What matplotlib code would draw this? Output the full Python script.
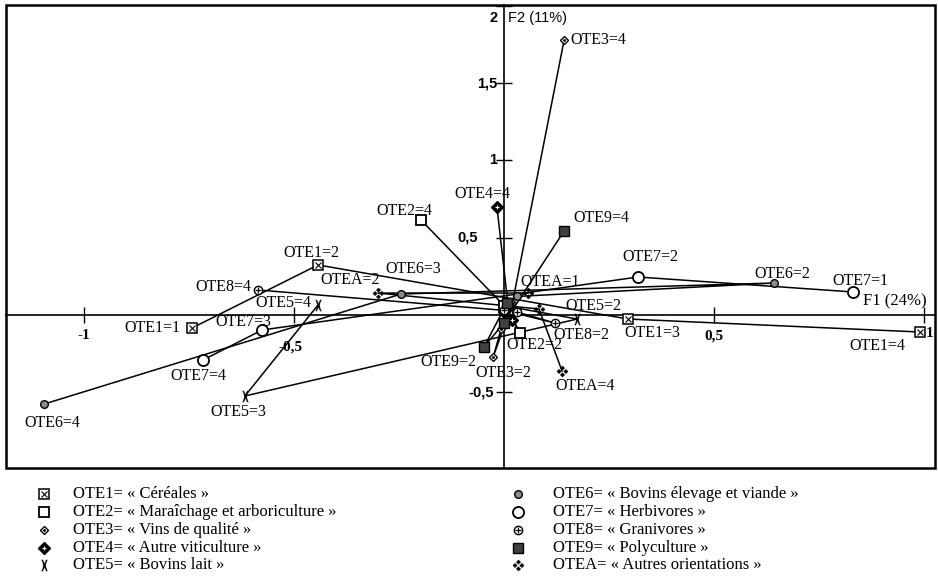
import numpy as np
import matplotlib.pyplot as plt
from matplotlib.path import Path
from matplotlib.patches import Rectangle

# coordinates on F1 / F2 for categories 1..4 of each OTE variable
ote1_f1 = [-0.743, -0.443, 0.295, 0.990]
ote1_f2 = [-0.084, 0.324, -0.026, -0.110]
ote2_f1 = [0.010, 0.038, 0.000, -0.198]
ote2_f2 = [0.030, -0.117, 0.060, 0.615]
ote3_f1 = [-0.007, -0.026, 0.020, 0.143]
ote3_f2 = [-0.090, -0.272, 0.080, 1.780]
ote4_f1 = [0.000, 0.020, 0.010, -0.017]
ote4_f2 = [0.020, -0.030, 0.050, 0.699]
ote5_f1 = [0.020, 0.174, -0.617, -0.443]
ote5_f2 = [0.050, -0.026, -0.524, 0.065]
ote6_f1 = [0.030, 0.643, -0.245, -1.095]
ote6_f2 = [0.120, 0.207, 0.136, -0.576]
ote7_f1 = [0.831, 0.319, -0.576, -0.717]
ote7_f2 = [0.149, 0.246, -0.097, -0.291]
ote8_f1 = [0.030, 0.121, 0.000, -0.586]
ote8_f2 = [0.020, -0.052, 0.030, 0.162]
ote9_f1 = [0.007, -0.048, 0.000, 0.143]
ote9_f2 = [0.078, -0.207, -0.050, 0.544]
otea_f1 = [0.057, -0.300, 0.083, 0.138]
otea_f2 = [0.142, 0.142, 0.039, -0.362]

variables = ['OTE1', 'OTE2', 'OTE3', 'OTE4', 'OTE5',
             'OTE6', 'OTE7', 'OTE8', 'OTE9', 'OTEA']
f1 = [ote1_f1, ote2_f1, ote3_f1, ote4_f1, ote5_f1,
      ote6_f1, ote7_f1, ote8_f1, ote9_f1, otea_f1]
f2 = [ote1_f2, ote2_f2, ote3_f2, ote4_f2, ote5_f2,
      ote6_f2, ote7_f2, ote8_f2, ote9_f2, otea_f2]

# which categories carry a label
labeled = [[1, 2, 3, 4], [2, 4], [2, 4], [4], [2, 3, 4],
           [2, 3, 4], [1, 2, 3, 4], [2, 4], [2, 4], [1, 2, 4]]

legend_names = ['« Céréales »', '« Maraîchage et arboriculture »',
                '« Vins de qualité »', '« Autre viticulture »',
                '« Bovins lait »', '« Bovins élevage et viande »',
                '« Herbivores »', '« Granivores »', '« Polyculture »',
                '« Autres orientations »']

x_ticks = [-1, -0.5, 0.5, 1]
x_tick_labels = ['-1', '-0,5', '0,5', '1']
y_ticks = [-0.5, 0.5, 1, 1.5, 2]
y_tick_labels = ['-0,5', '0,5', '1', '1,5', '2']

# label offsets (pixels, y up)
label_off = {
    'OTE1=1': (-40, 0), 'OTE1=2': (-7, 12), 'OTE1=3': (24, -14), 'OTE1=4': (-43, -14),
    'OTE2=2': (14, -12), 'OTE2=4': (-17, 9),
    'OTE3=2': (10, -16), 'OTE3=4': (34, 0),
    'OTE4=4': (-15, 13),
    'OTE5=2': (16, 13), 'OTE5=3': (-7, -16), 'OTE5=4': (-35, 2),
    'OTE6=2': (8, 9), 'OTE6=3': (12, 25), 'OTE6=4': (8, -19),
    'OTE7=1': (7, 11), 'OTE7=2': (12, 20), 'OTE7=3': (-19, 8), 'OTE7=4': (-5, -16),
    'OTE8=2': (26, -12), 'OTE8=4': (-35, 3),
    'OTE9=2': (-36, -15), 'OTE9=4': (37, 13),
    'OTEA=1': (22, 11), 'OTEA=2': (-28, 13), 'OTEA=4': (23, -15),
}


def four_diamonds():
    verts, codes = [], []
    r = 0.38
    for cx, cy in [(0, 0.6), (0.6, 0), (0, -0.6), (-0.6, 0)]:
        verts += [(cx, cy + r), (cx + r, cy), (cx, cy - r), (cx - r, cy), (cx, cy + r)]
        codes += [Path.MOVETO, Path.LINETO, Path.LINETO, Path.LINETO, Path.CLOSEPOLY]
    return Path(verts, codes)


# marker layers: (marker, size, face, edge, edge width)
styles = [
    [('s', 7, 'white', 'black', 1.1), ('x', 4, 'black', 'black', 0.8)],
    [('s', 7, 'white', 'black', 1.3)],
    [('D', 4.5, 'white', 'black', 1.0), ('.', 2.5, 'black', 'black', 0.8)],
    [('D', 6.5, 'black', 'black', 1.0), ('+', 3, 'white', 'white', 0.8)],
    [(r'$)\!($', 8, 'black', 'black', 0.3)],
    [('o', 5.5, '0.55', 'black', 1.0)],
    [('o', 8, 'white', 'black', 1.3)],
    [('o', 6, 'white', 'black', 1.0), ('+', 4.5, 'black', 'black', 0.9)],
    [('s', 7, '0.25', 'black', 1.0)],
    [(four_diamonds(), 8, 'black', 'black', 0.3)],
]

serif = 'Liberation Serif'
fig = plt.figure(figsize=(9.38, 5.88), dpi=100)

ax = fig.add_axes([6 / 938, (588 - 468) / 588, 929 / 938, 463 / 588])
ax.set_xlim(-1.186, 1.026)
ax.set_ylim(-0.990, 2.006)
for s in ['top', 'right']:
    ax.spines[s].set_visible(False)
ax.spines['left'].set_position(('data', 0))
ax.spines['bottom'].set_position(('data', 0))
ax.spines['left'].set_linewidth(1.2)
ax.spines['bottom'].set_linewidth(1.2)
ax.set_xticks(x_ticks)
ax.set_yticks(y_ticks)
ax.tick_params(direction='inout', length=11, width=1.0,
               labelbottom=False, labelleft=False)
ax.add_patch(Rectangle((0, 0), 1, 1, transform=ax.transAxes, fill=False,
                       lw=1.8, ec='black', clip_on=False, zorder=10))

# tick labels placed like the original
x_lab_off = [(0, -20), (-4, -32), (0, -21), (6, -18)]
for t, lab, off in zip(x_ticks, x_tick_labels, x_lab_off):
    ax.annotate(lab, (t, 0), xytext=off, textcoords='offset pixels',
                ha='center', va='center', fontsize=11, family=serif,
                fontweight='bold')
y_lab_off = [(-23, 0), (-36, 0), (-11, 0), (-17, 0), (-11, -12)]
for t, lab, off in zip(y_ticks, y_tick_labels, y_lab_off):
    ax.annotate(lab, (0, t), xytext=off, textcoords='offset pixels',
                ha='center', va='center', fontsize=10.5, family='Liberation Sans',
                fontweight='bold')
ax.annotate('F2 (11%)', (0, 2), xytext=(4, -12), textcoords='offset pixels',
            ha='left', va='center', fontsize=10.5, family='Liberation Sans')
ax.annotate('F1 (24%)', (1.026, 0), xytext=(-8, 6), textcoords='offset pixels',
            ha='right', va='bottom', fontsize=12, family=serif)

# trajectories between successive categories
for xs, ys in zip(f1, f2):
    ax.plot(xs, ys, color='black', lw=1.1, zorder=2)

for var, xs, ys, layers, labs in zip(variables, f1, f2, styles, labeled):
    for m, ms, fc, ec, ew in layers:
        ax.plot(xs, ys, ls='none', marker=m, ms=ms, mfc=fc, mec=ec, mew=ew,
                zorder=4)
    for k in labs:
        name = f'{var}={k}'
        ax.annotate(name, (xs[k - 1], ys[k - 1]), xytext=label_off[name],
                    textcoords='offset pixels', ha='center', va='center',
                    fontsize=11.5, family=serif, zorder=5)

# legend below the chart
leg = fig.add_axes([0, 0, 1, 1], zorder=-1)
leg.set_xlim(0, 938)
leg.set_ylim(588, 0)
leg.axis('off')
rows = [494, 512, 530, 548, 565]
for i, (var, layers, name) in enumerate(zip(variables, styles, legend_names)):
    col = i // 5
    y = rows[i % 5]
    xm = 44 if col == 0 else 518
    xt = 73 if col == 0 else 553
    for m, ms, fc, ec, ew in layers:
        leg.plot([xm], [y], ls='none', marker=m, ms=ms, mfc=fc, mec=ec, mew=ew)
    leg.text(xt, y, f'{var}= {name}', ha='left', va='center',
             fontsize=12, family=serif)

fig.savefig('out.png', dpi=100)
